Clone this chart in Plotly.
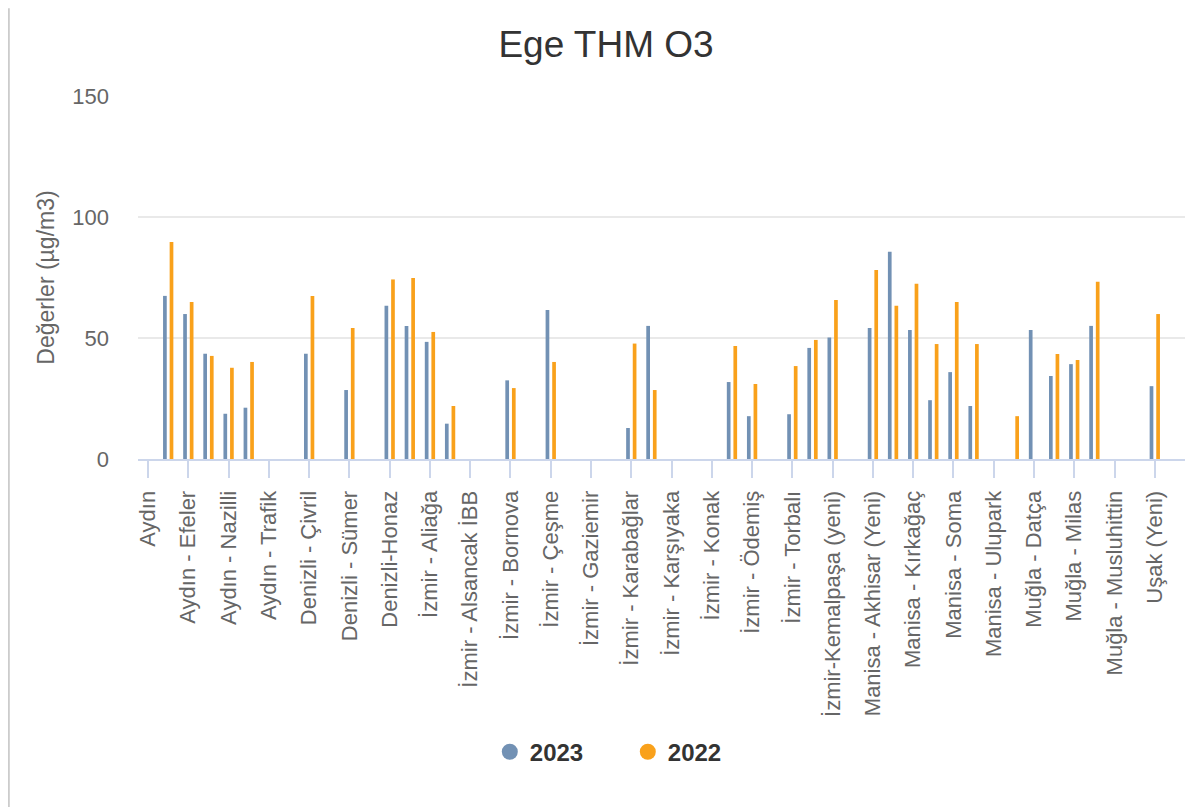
import plotly.graph_objects as go

# Station labels (Highcharts showed every second category label)
station_labels = [
    "Aydın", "Aydın - Efeler", "Aydın - Nazilli", "Aydın - Trafik",
    "Denizli - Çivril", "Denizli - Sümer", "Denizli-Honaz", "İzmir - Aliağa",
    "İzmir - Alsancak İBB", "İzmir - Bornova", "İzmir - Çeşme", "İzmir - Gaziemir",
    "İzmir - Karabağlar", "İzmir - Karşıyaka", "İzmir - Konak", "İzmir - Ödemiş",
    "İzmir - Torbalı", "İzmir-Kemalpaşa (yeni)", "Manisa - Akhisar (Yeni)",
    "Manisa - Kırkağaç", "Manisa - Soma", "Manisa - Ulupark", "Muğla - Datça",
    "Muğla - Milas", "Muğla - Musluhittin", "Uşak (Yeni)",
]

# Values per category slot (52 slots, labels shown on even slots)
values_2023 = [
    None, 67.4, 59.9, 43.5, 18.7, 21.2, None, None, 43.5, None,
    28.5, None, 63.3, 55.0, 48.4, 14.6, None, None, 32.5, None,
    61.6, None, None, None, 12.8, 55.0, None, None, None, 31.8,
    17.7, None, 18.5, 45.9, 50.2, None, 54.1, 85.6, 53.3, 24.3,
    35.9, 21.9, None, None, 53.3, 34.3, 39.2, 55.0, None, None,
    30.1, None,
]
values_2022 = [
    None, 89.7, 64.9, 42.6, 37.7, 40.1, None, None, 67.4, None,
    54.1, None, 74.2, 74.8, 52.5, 21.9, None, None, 29.3, None,
    40.1, None, None, None, 47.7, 28.5, None, None, None, 46.7,
    31.0, None, 38.4, 49.2, 65.7, None, 78.1, 63.3, 72.4, 47.5,
    64.9, 47.5, None, 17.7, None, 43.4, 40.9, 73.2, None, None,
    59.9, None,
]

series_names = ["2023", "2022"]
colors = ["#7291b4", "#f9a11b"]

slots = list(range(len(values_2023)))
label_step = len(values_2023) // len(station_labels)
tick_positions = slots[::label_step]

FONT = "Liberation Sans, Arial, sans-serif"

fig = go.Figure()
for name, vals, col in zip(series_names, [values_2023, values_2022], colors):
    fig.add_trace(go.Bar(x=slots, y=vals, name=name, marker_color=col,
                         marker_line_width=0, showlegend=False))
    fig.add_trace(go.Scatter(x=[None], y=[None], mode="markers", name=name,
                             marker=dict(symbol="circle", size=24, color=col)))

W, H = 1194, 801
L, T = 130.2, 87.7
plot_w, plot_h = 1047.0, 363.1
R = W - L - plot_w
B = H - T - plot_h

fig.update_layout(
    width=W, height=H,
    margin=dict(l=L, r=R, t=T, b=B, autoexpand=False),
    paper_bgcolor="white", plot_bgcolor="white",
    font=dict(family=FONT, color="#666666"),
    barmode="group", bargap=0.344, bargroupgap=0.44,
    title=dict(text="Ege THM O3", x=598 / W, xanchor="center",
               y=1 - 36 / H, yanchor="middle", yref="container",
               font=dict(size=37, color="#333333", family=FONT)),
    xaxis=dict(
        range=[-0.5, len(slots) - 0.5], tickmode="array",
        tickvals=tick_positions, ticktext=station_labels, tickangle=-90,
        ticks="outside", ticklen=17, tickwidth=2, tickcolor="#ccd6eb",
        showline=True, linecolor="#ccd6eb", linewidth=2,
        showgrid=False, zeroline=False,
        tickfont=dict(size=22, color="#666666"), ticklabelstandoff=4,
        fixedrange=True,
    ),
    yaxis=dict(
        range=[0, 150], tickvals=[0, 50, 100, 150],
        showgrid=True, gridcolor="#e9e9e9", gridwidth=2,
        zeroline=False, showline=False, ticks="",
        tickfont=dict(size=22, color="#666666"), ticklabelstandoff=28,
        title=dict(text="Değerler (µg/m3)", font=dict(size=23, color="#666666"),
                   standoff=11),
        fixedrange=True,
    ),
    legend=dict(orientation="h", x=(482 - L) / plot_w, xanchor="left",
                y=(T + plot_h - 744) / plot_h, yanchor="middle",
                font=dict(size=24, color="#333333", family=FONT, weight="bold"),
                itemsizing="trace", entrywidth=93, bgcolor="rgba(0,0,0,0)"),
    shapes=[dict(type="line", xref="paper", yref="paper",
                 x0=(1 - L) / plot_w, x1=(1 - L) / plot_w,
                 y0=-(B - 2) / plot_h, y1=1 + T / plot_h,
                 line=dict(color="#cccccc", width=2))],
)

fig.write_html("out.html")
